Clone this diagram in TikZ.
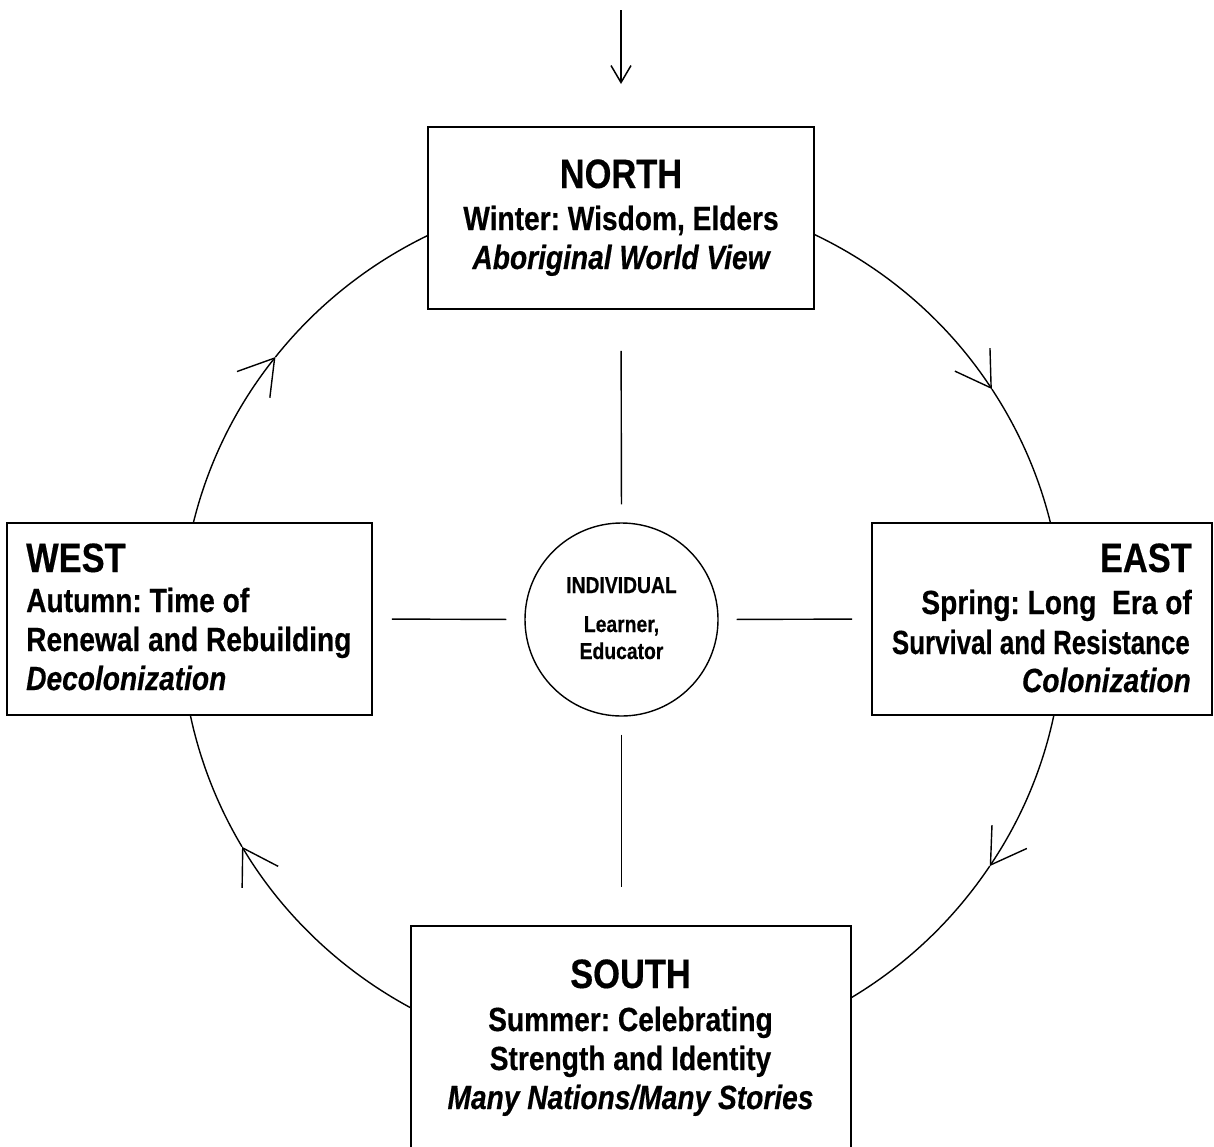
\documentclass[tikz,border=0pt]{standalone}
\usepackage{fontspec}
\setmainfont{Liberation Sans}[FakeStretch=0.84, BoldFeatures={FakeBold=0.4}, BoldItalicFeatures={FakeBold=0.4}]
\usetikzlibrary{arrows.meta}
\frenchspacing
\newcommand\ttlsize{\fontsize{41}{45}\selectfont\bfseries}
\newcommand\linsize{\fontsize{33.5}{38}\selectfont\bfseries}
\newcommand\itlsize{\fontsize{33.5}{38}\selectfont\bfseries\itshape}
\newcommand\ctrsize{\fontsize{23}{26}\selectfont\bfseries}
\begin{document}
\begin{tikzpicture}[x=1pt,y=1pt,
  box/.style={draw, line width=1.6pt, fill=white, rectangle, inner sep=0pt},
  txt/.style={inner sep=0pt, anchor=base},
  ttl/.style={txt, font=\ttlsize},
  lin/.style={txt, font=\linsize},
  itl/.style={txt, font=\itlsize},
  ctr/.style={txt, font=\ctrsize},
  ring/.style={line width=1.4pt},
  spoke/.style={line width=1.4pt},
  barb/.style={-{Straight Barb[length=34pt,width=42pt]}},
]
\clip (0,0) rectangle (1214,-1146);
\fill[white] (0,0) rectangle (1214,-1146);
% medicine wheel ring (clockwise)
\coordinate (C) at (622,-626);
\draw[ring, barb] ([shift={(90:441 and 435)}]C) arc[start angle=90, end angle=33, x radius=441, y radius=435];
\draw[ring, barb] ([shift={(33:441 and 435)}]C) arc[start angle=33, end angle=-33.5, x radius=441, y radius=435];
\draw[ring, barb] ([shift={(-33.5:441 and 435)}]C) arc[start angle=-33.5, end angle=-149.5, x radius=441, y radius=435];
\draw[ring, barb] ([shift={(-149.5:441 and 435)}]C) arc[start angle=-149.5, end angle=-218.2, x radius=441, y radius=435];
\draw[ring] ([shift={(-218.2:441 and 435)}]C) arc[start angle=-218.2, end angle=-270, x radius=441, y radius=435];
% boxes
\node[box, minimum width=386pt, minimum height=182pt] (north) at (621,-218) {};
\node[box, minimum width=365pt, minimum height=192pt] (west) at (189.5,-619) {};
\node[box, minimum width=340pt, minimum height=192pt] (east) at (1042,-619) {};
\node[box, minimum width=440pt, minimum height=226pt] (south) at (631,-1039) {};
\node[circle, draw, line width=1.4pt, minimum size=193pt, inner sep=0pt] (ind) at (621.5,-619.5) {};
% top arrow
\coordinate (topS) at (621,-10);
\coordinate (topE) at (621,-84);
\draw[line width=1.5pt, -{Straight Barb[length=17pt,width=20pt]}] (topS) -- (topE);
% spokes
\draw[spoke, shorten <=41pt, shorten >=18pt] (north.south) -- (ind.north);
\draw[spoke, shorten <=18pt, shorten >=38pt] (ind.south) -- (south.north -| ind.south);
\draw[spoke, shorten <=19pt, shorten >=18pt] (west.east) -- (ind.west);
\draw[spoke, shorten <=18pt, shorten >=19pt] (ind.east) -- (east.west);
% north text
\node[ttl] (nT) at (621,-188) {NORTH};
\node[lin] (nA) at (621,-230) {Winter: Wisdom, Elders};
\node[itl] (nB) at (621,-269) {Aboriginal World View};
% west text
\node[ttl, anchor=base west] (wT) at (26,-572) {WEST};
\node[lin, anchor=base west] (wA) at (26,-612) {Autumn: Time of};
\node[lin, anchor=base west] (wB) at (26,-651) {Renewal and Rebuilding};
\node[itl, anchor=base west] (wC) at (26,-690) {Decolonization};
% east text
\node[ttl, anchor=base east] (eT) at (1192,-572) {EAST};
\node[lin, anchor=base east] (eA) at (1192,-614) {Spring: Long\ \ Era of};
\node[lin, anchor=base east] (eB) at (1190,-654) {\scalebox{0.92}[1]{Survival and Resistance}};
\node[itl, anchor=base east] (eC) at (1191,-692) {Colonization};
% south text
\node[ttl] (sT) at (630.5,-988) {SOUTH};
\node[lin] (sA) at (630.5,-1031) {Summer: Celebrating};
\node[lin] (sB) at (630.5,-1070) {Strength and Identity};
\node[itl] (sC) at (630.5,-1109) {Many Nations/Many Stories};
% centre text
\node[ctr] (cT) at (621.5,-593) {INDIVIDUAL};
\node[ctr] (cA) at (621.5,-632) {Learner,};
\node[ctr] (cB) at (621.5,-659) {Educator};
\end{tikzpicture}
\end{document}
